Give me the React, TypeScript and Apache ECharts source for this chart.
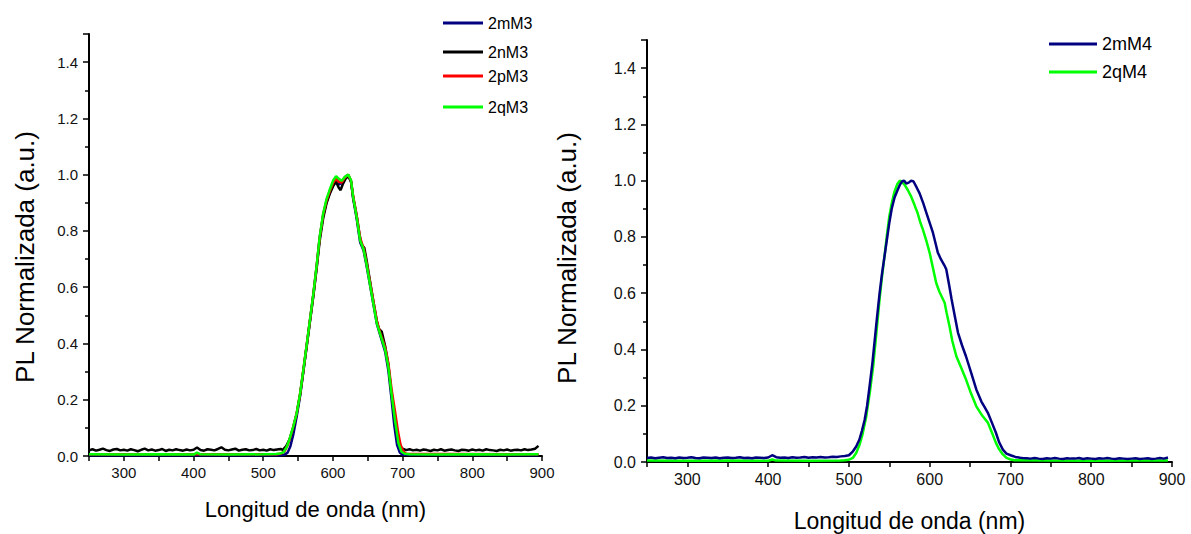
import React, { useEffect, useRef } from "react";
import * as echarts from "echarts";

// ---------- DATA ----------
const STEP = 5; // nm, sampling of noisy baselines

// Left panel (M3)
const base2nM3Before = [
  0.020, 0.024, 0.019, 0.022, 0.026, 0.021, 0.018, 0.023, 0.025, 0.020,
  0.022, 0.019, 0.024, 0.021, 0.017, 0.022, 0.026, 0.020, 0.023, 0.019,
  0.021, 0.025, 0.018, 0.022, 0.020, 0.024, 0.021, 0.019, 0.023, 0.020,
  0.022, 0.030, 0.021, 0.019, 0.024, 0.022, 0.020, 0.025, 0.031, 0.022,
  0.020, 0.023, 0.026, 0.019, 0.022, 0.024, 0.020, 0.021, 0.025, 0.020,
  0.022, 0.019, 0.024, 0.021, 0.023, 0.025,
]; // 250..525
const base2nM3After = [
  0.021, 0.024, 0.020, 0.022, 0.019, 0.023, 0.021, 0.018, 0.022, 0.020,
  0.024, 0.019, 0.021, 0.023, 0.020, 0.018, 0.022, 0.021, 0.019, 0.023,
  0.020, 0.022, 0.019, 0.024, 0.021, 0.020, 0.018, 0.022, 0.020, 0.023,
  0.019, 0.021, 0.022, 0.020, 0.024, 0.021, 0.023, 0.026, 0.036,
]; // 705..895
const peak2nM3: [number, number][] = [
  [528, 0.022], [533, 0.035], [538, 0.06], [543, 0.1], [548, 0.15], [553, 0.22],
  [557.5, 0.3], [562, 0.383], [567, 0.477], [572, 0.57], [577, 0.675], [581, 0.765],
  [586, 0.845], [591, 0.9], [596, 0.935], [600.5, 0.96], [604.5, 0.975], [608, 0.955],
  [611, 0.945], [614, 0.965], [618, 0.985], [622, 0.995], [626, 0.975], [629, 0.92],
  [634, 0.855], [638, 0.79], [641, 0.752], [645, 0.74], [648, 0.7], [653, 0.625],
  [658, 0.55], [663, 0.48], [666, 0.452], [670, 0.442], [675, 0.39], [679.5, 0.325],
  [684, 0.225], [689, 0.13], [694, 0.052], [698.5, 0.028],
];
const peak2qM3: [number, number][] = [
  [250, 0.006], [300, 0.005], [350, 0.006], [400, 0.005], [405, 0.012], [410, 0.006],
  [450, 0.005], [500, 0.006], [518, 0.007], [524, 0.009], [529, 0.013], [534, 0.033],
  [538, 0.063], [543, 0.104], [548, 0.152], [553, 0.223], [557.5, 0.305], [562, 0.388],
  [567, 0.483], [572, 0.578], [577, 0.685], [581, 0.779], [586, 0.862], [591, 0.915],
  [596, 0.951], [600.5, 0.98], [604.5, 0.995], [608, 0.986], [612.5, 0.978], [617, 0.992],
  [622, 1.0], [626, 0.98], [629, 0.921], [634, 0.85], [639, 0.767], [644, 0.734],
  [648, 0.685], [653, 0.613], [658, 0.542], [663, 0.471], [667.5, 0.436], [675, 0.377],
  [679.5, 0.317], [684, 0.223], [689, 0.128], [694, 0.045], [698.5, 0.015], [703, 0.008],
  [710, 0.006], [750, 0.005], [800, 0.006], [850, 0.005], [895, 0.006],
];
const peak2mM3: [number, number][] = [
  [250, 0.003], [400, 0.003], [525, 0.003], [530, 0.004], [535, 0.012], [539, 0.035],
  [543, 0.075], [548, 0.14], [553, 0.215], [557.5, 0.3], [562, 0.385], [567, 0.48],
  [572, 0.575], [577, 0.68], [581, 0.775], [586, 0.855], [591, 0.905], [596, 0.94],
  [600.5, 0.965], [604.5, 0.975], [608, 0.965], [612.5, 0.97], [617, 0.99], [622, 1.0],
  [626, 0.975], [629, 0.915], [634, 0.845], [639, 0.76], [644, 0.73], [648, 0.68],
  [653, 0.61], [658, 0.54], [663, 0.47], [667.5, 0.432], [675, 0.37], [679.5, 0.305],
  [684, 0.205], [688, 0.11], [692, 0.04], [696, 0.012], [700, 0.004], [895, 0.003],
];
const peak2pM3: [number, number][] = [
  [250, 0.006], [520, 0.006], [526, 0.009], [531, 0.018], [535, 0.038], [539, 0.068],
  [543, 0.104], [548, 0.152], [553, 0.222], [557.5, 0.305], [562, 0.388], [567, 0.482],
  [572, 0.577], [577, 0.683], [581, 0.776], [586, 0.858], [591, 0.91], [596, 0.945],
  [600.5, 0.972], [604.5, 0.985], [608, 0.975], [612.5, 0.972], [617, 0.99], [622, 1.0],
  [626, 0.978], [629, 0.924], [634, 0.856], [639, 0.775], [644, 0.738], [648, 0.69],
  [653, 0.62], [658, 0.55], [663, 0.48], [667.5, 0.44], [675, 0.385], [679.5, 0.33],
  [684, 0.24], [689, 0.16], [693.5, 0.085], [697, 0.04], [701, 0.016], [705, 0.008],
  [895, 0.006],
];

// Right panel (M4)
const base2mM4Before = [
  0.014, 0.016, 0.013, 0.015, 0.017, 0.014, 0.015, 0.013, 0.016, 0.014,
  0.015, 0.017, 0.014, 0.013, 0.016, 0.015, 0.014, 0.016, 0.013, 0.015,
  0.016, 0.014, 0.015, 0.017, 0.014, 0.015, 0.013, 0.016, 0.015, 0.014,
  0.016, 0.024, 0.017, 0.015, 0.016, 0.014, 0.017, 0.015, 0.016, 0.018,
  0.015, 0.017, 0.016, 0.018, 0.016, 0.017, 0.019, 0.018, 0.020, 0.021,
]; // 250..495
const base2mM4After = [
  0.014, 0.013, 0.012, 0.014, 0.012, 0.011, 0.013, 0.012, 0.014, 0.012,
  0.011, 0.013, 0.012, 0.012, 0.014, 0.011, 0.013, 0.012, 0.011, 0.013,
  0.012, 0.014, 0.012, 0.011, 0.013, 0.012, 0.011, 0.012, 0.013, 0.011,
  0.012, 0.013, 0.011, 0.012, 0.014, 0.012, 0.016,
]; // 715..895
const peak2mM4: [number, number][] = [
  [500, 0.024], [505, 0.038], [509, 0.055], [513, 0.08], [516, 0.11], [519.5, 0.15],
  [522.5, 0.2], [525.6, 0.27], [529, 0.35], [532, 0.435], [535, 0.52], [538, 0.6],
  [541, 0.67], [544, 0.73], [547, 0.79], [550, 0.85], [553, 0.9], [556.5, 0.94],
  [560, 0.965], [563, 0.985], [566, 0.998], [568.5, 1.0], [571, 0.99], [574, 0.993],
  [577, 1.0], [580, 0.997], [584, 0.975], [587.5, 0.955], [592, 0.92], [596, 0.885],
  [600, 0.85], [604, 0.815], [607, 0.78], [610, 0.745], [614, 0.72], [618, 0.7],
  [620.5, 0.685], [624, 0.63], [627, 0.58], [631, 0.52], [635, 0.46], [640, 0.415],
  [645, 0.375], [651, 0.32], [657.7, 0.258], [664, 0.215], [668, 0.195], [672, 0.175],
  [677, 0.14], [682, 0.104], [686, 0.07], [690.6, 0.044], [695, 0.03], [701, 0.023],
  [706, 0.018], [712, 0.015],
];
const peak2qM4: [number, number][] = [
  [250, 0.005], [300, 0.004], [350, 0.005], [400, 0.004], [405, 0.009], [410, 0.005],
  [450, 0.004], [490, 0.005], [495, 0.006], [500, 0.008], [505, 0.015], [509, 0.032],
  [513, 0.06], [517, 0.1], [521.5, 0.163], [526, 0.25], [530, 0.34], [534, 0.46],
  [538, 0.58], [541, 0.66], [544, 0.73], [547, 0.805], [550, 0.873], [553, 0.92],
  [556.5, 0.962], [560, 0.988], [563, 1.0], [566, 0.995], [569, 0.985], [573, 0.966],
  [577, 0.944], [581, 0.915], [585, 0.885], [588, 0.855], [591.6, 0.826], [596, 0.785],
  [600, 0.743], [604, 0.69], [608, 0.637], [612, 0.605], [618.5, 0.566], [621, 0.53],
  [624.6, 0.482], [628, 0.43], [633, 0.376], [639, 0.335], [645, 0.293], [651, 0.245],
  [657.7, 0.198], [665, 0.165], [672, 0.14], [677, 0.105], [682, 0.068], [686, 0.045],
  [690.6, 0.027], [695, 0.015], [699, 0.01], [705, 0.006], [750, 0.005], [800, 0.004],
  [850, 0.005], [895, 0.005],
];

const xTitle = "Longitud de onda (nm)";
const yTitle = "PL Normalizada (a.u.)";

// ---------- helpers ----------
const onGrid = (start: number, values: number[]): [number, number][] =>
  values.map((v, i) => [start + i * STEP, v]);

const series2nM3 = [
  ...onGrid(250, base2nM3Before),
  ...peak2nM3,
  ...onGrid(705, base2nM3After),
];
const series2mM4 = [
  ...onGrid(250, base2mM4Before),
  ...peak2mM4,
  ...onGrid(715, base2mM4After),
];

const FONT = "'Liberation Sans', Arial, Helvetica, sans-serif";
const NAVY = "#000080";
const GREEN = "#00ff00";

function xAxis(gridIndex: number, fs: number, nameSize: number, nameGap: number) {
  return {
    type: "value",
    gridIndex,
    min: 250,
    max: 900,
    interval: 50,
    name: xTitle,
    nameLocation: "middle",
    nameGap,
    nameTextStyle: { fontSize: nameSize, color: "#000", fontFamily: FONT },
    axisLine: { show: true, onZero: false, lineStyle: { color: "#000", width: 2 } },
    axisTick: { show: true, inside: false, length: 5, lineStyle: { color: "#000", width: 1.5 } },
    axisLabel: {
      fontSize: fs,
      color: "#111",
      fontFamily: FONT,
      margin: 9,
      formatter: (v: number) => (v % 100 === 0 && v !== 250 ? String(v) : ""),
    },
    splitLine: { show: false },
  };
}

function yAxis(gridIndex: number, fs: number) {
  return {
    type: "value",
    gridIndex,
    min: 0,
    max: 1.5,
    interval: 0.2,
    axisLine: { show: true, onZero: false, lineStyle: { color: "#000", width: 2 } },
    axisTick: { show: true, inside: false, length: 6, lineStyle: { color: "#000", width: 1.5 } },
    minorTick: { show: true, splitNumber: 2, length: 4, lineStyle: { color: "#000", width: 1.5 } },
    axisLabel: {
      fontSize: fs,
      color: "#111",
      fontFamily: FONT,
      margin: 11,
      showMaxLabel: false,
      formatter: (v: number) => (Math.abs(v - 1.5) < 1e-6 ? "" : v.toFixed(1)),
    },
    splitLine: { show: false },
    minorSplitLine: { show: false },
  };
}

function line(name: string, color: string, data: [number, number][], idx: number, z: number) {
  return {
    type: "line",
    name,
    data,
    xAxisIndex: idx,
    yAxisIndex: idx,
    showSymbol: false,
    symbol: "none",
    z,
    lineStyle: { color, width: 2.5 },
    itemStyle: { color },
  };
}

const legendBase = {
  orient: "vertical",
  icon: "rect",
  itemWidth: 40,
  itemHeight: 3,
  padding: 0,
  selectedMode: false,
};

function yTitleText(x: number, y: number, size: number) {
  return {
    type: "text",
    x,
    y,
    rotation: Math.PI / 2,
    style: {
      text: yTitle,
      fontSize: size,
      fontFamily: FONT,
      fill: "#000",
      align: "center",
      verticalAlign: "middle",
    },
  };
}

export default function App() {
  const ref = useRef<HTMLDivElement>(null);

  useEffect(() => {
    document.body.style.margin = "0";
    if (!ref.current) return;
    const chart = echarts.init(ref.current, undefined, { renderer: "svg" });
    chart.setOption({
      animation: false,
      backgroundColor: "#ffffff",
      textStyle: { fontFamily: FONT },
      grid: [
        { left: 89, top: 34, width: 453, height: 422, outerBoundsMode: "none", containLabel: false },
        { left: 647, top: 40, width: 525, height: 422, outerBoundsMode: "none", containLabel: false },
      ],
      xAxis: [xAxis(0, 15, 22, 42), xAxis(1, 16, 23, 47)],
      yAxis: [yAxis(0, 15), yAxis(1, 16)],
      graphic: [yTitleText(25, 257, 26), yTitleText(567, 258, 26)],
      legend: [
        { ...legendBase, data: ["2mM3"], left: 443, top: 15, textStyle: { fontSize: 16, color: "#000", fontFamily: FONT } },
        { ...legendBase, data: ["2nM3"], left: 443, top: 44, textStyle: { fontSize: 16, color: "#000", fontFamily: FONT } },
        { ...legendBase, data: ["2pM3"], left: 443, top: 68, textStyle: { fontSize: 16, color: "#000", fontFamily: FONT } },
        { ...legendBase, data: ["2qM3"], left: 443, top: 99, textStyle: { fontSize: 16, color: "#000", fontFamily: FONT } },
        {
          ...legendBase,
          data: ["2mM4", "2qM4"],
          left: 1049,
          top: 35,
          itemWidth: 48,
          itemGap: 10,
          textStyle: { fontSize: 18, color: "#000", fontFamily: FONT },
        },
      ],
      series: [
        line("2mM3", NAVY, peak2mM3, 0, 2),
        line("2nM3", "#000000", series2nM3, 0, 3),
        line("2pM3", "#ff0000", peak2pM3, 0, 4),
        line("2qM3", GREEN, peak2qM3, 0, 5),
        line("2qM4", GREEN, peak2qM4, 1, 2),
        line("2mM4", NAVY, series2mM4, 1, 3),
      ],
    });
    return () => chart.dispose();
  }, []);

  return <div ref={ref} style={{ width: 1191, height: 534 }} />;
}
